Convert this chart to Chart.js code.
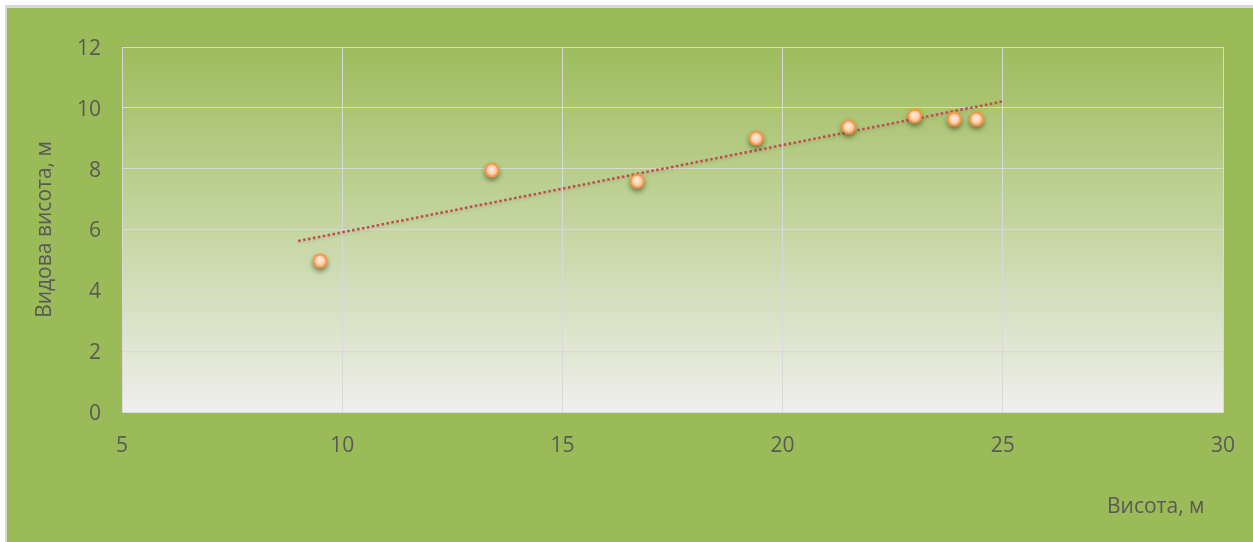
<!DOCTYPE html>
<html>
<head>
<meta charset="utf-8">
<script src="https://cdn.jsdelivr.net/npm/chart.js@4/dist/chart.umd.min.js"></script>
<style>
  html, body { margin: 0; padding: 0; background: #ffffff; }
  #wrap { width: 1253px; height: 542px; position: relative; }
</style>
</head>
<body>
<div id="wrap"><canvas id="c" width="1253" height="542"></canvas></div>
<script>
// Data
const heightX = [9.5, 13.4, 16.7, 19.4, 21.5, 23.0, 23.9, 24.4];
const apparentY = [4.97, 7.95, 7.59, 9.0, 9.37, 9.73, 9.63, 9.63];
const trendX = [9, 25];
const trendY = [5.62, 10.21];
const xTicks = [5, 10, 15, 20, 25, 30];
const yTicks = [0, 2, 4, 6, 8, 10, 12];
const xTitle = 'Висота, м';
const yTitle = 'Видова висота, м';

const FONT = '"Open Sans", "Liberation Sans", sans-serif';
const TEXT = '#595959';
const GRID = '#D9D9D9';

const points = heightX.map((x, i) => ({ x: x, y: apparentY[i] }));
const trend = trendX.map((x, i) => ({ x: x, y: trendY[i] }));

// marker image: orange ring, light peach fill, soft drop shadow
function makeMarker() {
  const S = 30;
  const c = document.createElement('canvas');
  c.width = S; c.height = S;
  const ctx = c.getContext('2d');
  const cx = S / 2, cy = S / 2, r = 6.3;
  ctx.save();
  ctx.shadowColor = 'rgba(40,50,20,0.55)';
  ctx.shadowBlur = 5;
  ctx.shadowOffsetY = 3;
  ctx.beginPath();
  ctx.arc(cx, cy, r + 1.2, 0, Math.PI * 2);
  ctx.fillStyle = '#F79646';
  ctx.fill();
  ctx.restore();
  const g = ctx.createRadialGradient(cx - 1, cy - 1.5, 0.5, cx, cy, r);
  g.addColorStop(0, '#FFEBDD');
  g.addColorStop(0.6, '#FDD3B5');
  g.addColorStop(1, '#F9B98B');
  ctx.beginPath();
  ctx.arc(cx, cy, r - 0.9, 0, Math.PI * 2);
  ctx.fillStyle = g;
  ctx.fill();
  return c;
}
const markerImg = makeMarker();

const bgPlugin = {
  id: 'bg',
  beforeDraw(chart) {
    const ctx = chart.ctx;
    const W = chart.width, H = chart.height;
    ctx.save();
    ctx.fillStyle = '#ffffff';
    ctx.fillRect(0, 0, W, H);
    ctx.fillStyle = '#D9D9D9';
    ctx.fillRect(5, 5, W - 5, H - 5);
    ctx.fillStyle = '#9BBB59';
    ctx.fillRect(7, 8, W - 7, H - 8);
    const a = chart.chartArea;
    const g = ctx.createLinearGradient(0, a.top, 0, a.bottom);
    g.addColorStop(0, '#9EBC5C');
    g.addColorStop(0.5, '#C5D6A2');
    g.addColorStop(1, '#EFEFEC');
    ctx.fillStyle = g;
    ctx.fillRect(a.left, a.top, a.right - a.left, a.bottom - a.top);
    ctx.restore();
  },
  afterDraw(chart) {
    const ctx = chart.ctx;
    const a = chart.chartArea;
    ctx.save();
    ctx.fillStyle = TEXT;
    ctx.font = '21px ' + FONT;
    ctx.textBaseline = 'middle';
    ctx.textAlign = 'left';
    ctx.fillText(xTitle, 1107, 507);
    ctx.translate(45, (a.top + a.bottom) / 2);
    ctx.rotate(-Math.PI / 2);
    ctx.textAlign = 'center';
    ctx.fillText(yTitle, 0, 0);
    ctx.restore();
  },
  beforeDatasetDraw(chart, args) {
    const ctx = chart.ctx;
    ctx.save();
    if (args.index === 1) {
      ctx.shadowColor = 'rgba(0,0,0,0.12)';
      ctx.shadowBlur = 3;
      ctx.shadowOffsetY = 2;
    }
  },
  afterDatasetDraw(chart) {
    chart.ctx.restore();
  }
};

new Chart(document.getElementById('c'), {
  type: 'scatter',
  data: {
    datasets: [
      {
        label: 'points',
        data: points,
        pointStyle: markerImg,
        pointRadius: 7,
        pointHoverRadius: 7
      },
      {
        label: 'trend',
        data: trend,
        showLine: true,
        pointRadius: 0,
        borderColor: '#C0504D',
        borderWidth: 2.6,
        borderDash: [2.6, 2.4],
        borderCapStyle: 'butt',
        fill: false
      }
    ]
  },
  options: {
    responsive: false,
    animation: false,
    events: [],
    devicePixelRatio: 1,
    layout: { padding: { left: 0, right: 30, top: 47, bottom: 0 } },
    plugins: {
      legend: { display: false },
      tooltip: { enabled: false },
      title: { display: false }
    },
    scales: {
      x: {
        type: 'linear',
        min: xTicks[0],
        max: xTicks[xTicks.length - 1],
        afterBuildTicks(scale) { scale.ticks = xTicks.map(v => ({ value: v })); },
        afterFit(scale) { scale.height = 130; scale.paddingLeft = 0; scale.paddingRight = 0; },
        grid: { color: GRID, lineWidth: 1, drawTicks: false },
        border: { display: true, color: GRID, width: 1 },
        ticks: { color: TEXT, font: { size: 21, family: FONT }, padding: 21, maxRotation: 0 }
      },
      y: {
        type: 'linear',
        min: yTicks[0],
        max: yTicks[yTicks.length - 1],
        afterBuildTicks(scale) { scale.ticks = yTicks.map(v => ({ value: v })); },
        afterFit(scale) { scale.width = 122; scale.paddingTop = 0; scale.paddingBottom = 0; },
        grid: { color: GRID, lineWidth: 1, drawTicks: false },
        border: { display: true, color: GRID, width: 1 },
        ticks: { color: TEXT, font: { size: 21, family: FONT }, padding: 21, labelOffset: 2 }
      }
    }
  },
  plugins: [bgPlugin]
});
</script>
</body>
</html>
